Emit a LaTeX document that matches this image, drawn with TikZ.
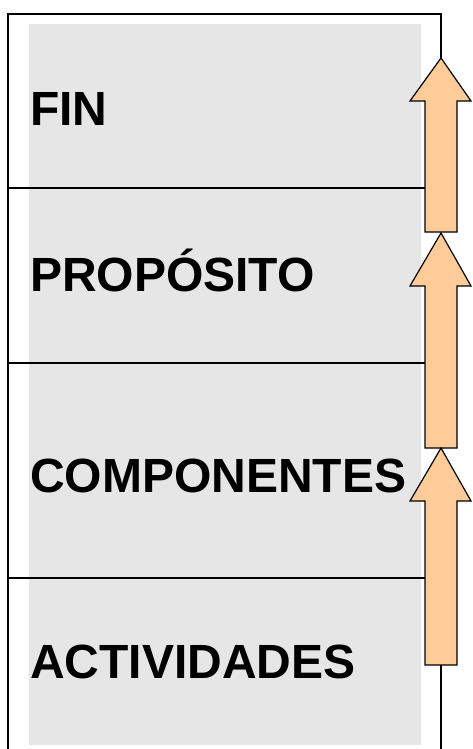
\documentclass[tikz,border=0pt]{standalone}
\usepackage{fontspec}
\setmainfont{Liberation Sans}
\usepackage{xcolor}
\usetikzlibrary{positioning}
\definecolor{peach}{HTML}{FFCC99}
\definecolor{panel}{HTML}{E6E6E6}
\tikzstyle{level} = [anchor=base west, inner sep=0pt, font=\fontsize{48}{56}\selectfont\bfseries]
\tikzstyle{frame} = [draw=black, line width=1.2pt]
\tikzstyle{uparrow} = [fill=peach, draw=black, line width=1.2pt, line join=miter]

\begin{document}
\begin{tikzpicture}[x=1pt, y=-1pt]
    \useasboundingbox (0,0) rectangle (472,749);

    % Gray panel behind the levels
    \fill[panel] (29,24) rectangle (421,745);

    % Outer frame and level dividers
    \draw[frame] (8,749) -- (8,14) -- (441,14) -- (441,58);
    \draw[frame] (441,665) -- (441,749);
    \draw[frame] (8,188) -- (425,188);
    \draw[frame] (8,363) -- (425,363);
    \draw[frame] (8,578) -- (425,578);

    % Level labels
    \node[level] (fin) at (30,125) {FIN};
    \node[level] (proposito) at (30,291) {PROPÓSITO};
    \node[level] (componentes) at (30,492) {COMPONENTES};
    \node[level] (actividades) at (30,678) {ACTIVIDADES};

    % Block arrows between levels
    \draw[uparrow] (441,58) -- (471,101) -- (457,101) -- (457,232) -- (425,232) -- (425,101) -- (410,101) -- cycle;
    \draw[uparrow] (441,233) -- (471,286) -- (457,286) -- (457,448) -- (425,448) -- (425,286) -- (410,286) -- cycle;
    \draw[uparrow] (441,448) -- (471,501) -- (457,501) -- (457,665) -- (425,665) -- (425,501) -- (410,501) -- cycle;

\end{tikzpicture}
\end{document}
